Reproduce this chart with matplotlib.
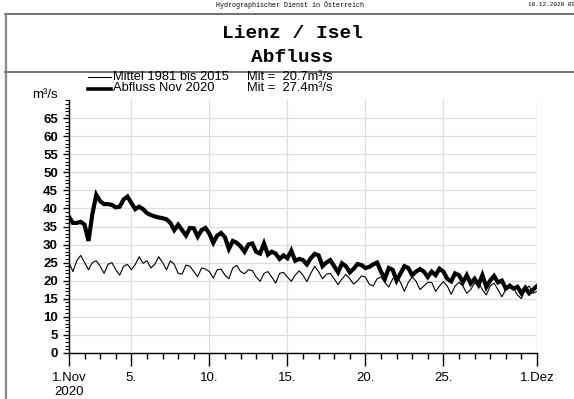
import matplotlib
matplotlib.use("Agg")
import matplotlib.pyplot as plt
import matplotlib.dates as mdates
from matplotlib.lines import Line2D
from matplotlib.ticker import MultipleLocator
import pandas as pd

# 6-hourly values, 1 Nov 2020 00:00 .. 1 Dec 2020 00:00
mittel = [
    25.0, 22.5, 25.5, 27.0,
    25.0, 23.0, 25.0, 25.5,
    24.0, 22.0, 24.5, 25.0,
    23.0, 21.5, 24.0, 24.5,
    23.0, 24.5, 26.6, 24.8,
    25.5, 23.5, 24.5, 26.6,
    25.0, 23.0, 25.5, 24.5,
    22.0, 21.8, 24.3, 24.0,
    22.5, 21.1, 23.5, 23.2,
    22.5, 20.7, 23.0, 23.2,
    21.5, 20.5, 23.5, 24.2,
    22.5, 21.9, 23.0, 22.8,
    21.0, 19.8, 22.0, 22.5,
    21.0, 19.3, 22.0, 22.3,
    21.0, 19.8, 21.5, 22.7,
    21.5, 19.7, 22.0, 24.0,
    22.5, 20.5, 21.8, 22.0,
    20.5, 18.9, 20.5, 21.7,
    20.5, 19.0, 20.0, 21.3,
    21.0, 19.0, 18.5, 20.5,
    21.0, 19.5, 18.2, 20.5,
    21.3, 19.5, 17.0, 19.5,
    21.0, 19.8, 17.5, 18.5,
    19.5, 19.5, 17.0, 18.5,
    19.7, 18.5, 16.2, 18.5,
    19.5, 18.5, 16.5, 17.5,
    19.3, 19.5, 17.5, 16.0,
    18.5, 19.3, 17.5, 15.5,
    17.5, 19.2, 18.0, 16.0,
    15.0, 17.5, 18.5, 16.5,
    17.0,
]

abfluss = [
    37.7, 36.0, 36.0, 36.3,
    35.5, 31.0, 38.5, 43.8,
    42.0, 41.2, 41.2, 41.0,
    40.3, 40.5, 42.5, 43.3,
    41.5, 39.8, 40.5, 39.8,
    38.7, 38.2, 37.8, 37.5,
    37.3, 37.0, 36.0, 34.0,
    35.5, 34.0, 32.5, 34.6,
    34.5, 32.2, 34.0, 34.6,
    33.0, 30.5, 32.5, 33.2,
    32.0, 28.8, 31.0, 30.5,
    29.5, 28.0, 30.0, 30.3,
    28.0, 27.5, 30.3, 27.2,
    28.0, 27.5, 26.0, 27.0,
    26.2, 28.3, 25.5, 26.0,
    25.7, 24.5, 26.2, 27.4,
    27.0, 24.0, 25.0, 25.7,
    24.0, 22.3, 24.8, 24.0,
    22.3, 23.3, 24.6, 24.3,
    23.5, 23.8, 24.5, 25.0,
    22.5, 20.5, 23.5, 23.0,
    20.0, 22.0, 24.0, 23.5,
    21.5, 22.5, 23.2, 22.5,
    21.0, 22.5, 21.5, 23.3,
    22.5, 20.5, 19.8, 22.0,
    21.5, 19.5, 21.5, 19.2,
    20.5, 18.8, 21.5, 18.2,
    20.0, 21.3, 19.5, 20.0,
    17.8, 18.5, 17.8, 18.3,
    16.5, 18.0, 16.5, 17.5,
    18.5,
]

times = pd.date_range("2020-11-01 00:00", "2020-12-01 00:00", freq="6h")

xtick_dates = ["2020-11-01", "2020-11-05", "2020-11-10", "2020-11-15",
               "2020-11-20", "2020-11-25", "2020-12-01"]
xtick_labels = ["1.Nov\n2020", "5.", "10.", "15.", "20.", "25.", "1.Dez"]
ytick_values = list(range(0, 70, 5))

plt.rcParams["font.family"] = ["Liberation Sans", "DejaVu Sans"]

fig = plt.figure(figsize=(5.74, 3.99), dpi=100)
ax = fig.add_axes([0.1202, 0.1160, 0.8153, 0.6326])

ax.plot(times, mittel, color="black", lw=0.8)
ax.plot(times, abfluss, color="black", lw=3.0, solid_joinstyle="miter")

ax.set_xlim(pd.Timestamp("2020-11-01"), pd.Timestamp("2020-12-01"))
ax.set_ylim(0, 70)

ax.set_xticks([pd.Timestamp(d) for d in xtick_dates])
ax.set_xticklabels(xtick_labels)
ax.xaxis.set_minor_locator(mdates.DayLocator())
ax.set_yticks(ytick_values)
ax.yaxis.set_minor_locator(MultipleLocator(1))
for lbl in ax.get_yticklabels():
    lbl.set_fontweight("bold")

ax.tick_params(axis="x", which="major", length=9, width=1, pad=5, labelsize=9.5, direction="out")
ax.tick_params(axis="x", which="minor", length=4, width=1, direction="out")
ax.tick_params(axis="y", which="major", length=4, width=1, pad=4, labelsize=9.5, direction="out")
ax.tick_params(axis="y", which="minor", length=3, width=0.8, direction="out")

ax.grid(True, which="major", color="#dddddd", lw=0.9)
ax.axvline(pd.Timestamp("2020-12-01"), color="#dddddd", lw=0.9)
ax.set_axisbelow(True)
for s in ["top", "right"]:
    ax.spines[s].set_visible(False)
for s in ["left", "bottom"]:
    ax.spines[s].set_linewidth(1.0)

W, H = 574.0, 399.0
def fx(px):
    return px / W
def fy(py):
    return 1 - py / H

# frame lines
fig.add_artist(Line2D([fx(5), 1.0], [fy(14), fy(14)], color="#555555", lw=1.2))
fig.add_artist(Line2D([fx(5), 1.0], [fy(71.5), fy(71.5)], color="#555555", lw=1.2))
fig.add_artist(Line2D([fx(6), fx(6)], [fy(14), 0.0], color="#888888", lw=1.6))

fig.text(fx(290), fy(5), "Hydrographischer Dienst in Österreich", family="Liberation Mono",
         fontsize=4.8, ha="center", va="center")
fig.text(fx(528), fy(5), "10.12.2020 09:45", family="Liberation Mono",
         fontsize=4.3, ha="left", va="center")

fig.text(fx(292), fy(34), "Lienz / Isel", family="Liberation Mono", fontweight="bold",
         fontsize=14, ha="center", va="center")
fig.text(fx(292), fy(57), "Abfluss", family="Liberation Mono", fontweight="bold",
         fontsize=14, ha="center", va="center")

# legend
fig.add_artist(Line2D([fx(88), fx(111)], [fy(77), fy(77)], color="black", lw=0.8))
fig.add_artist(Line2D([fx(88), fx(111)], [fy(88.5), fy(88.5)], color="black", lw=2.6))
fig.text(fx(113), fy(76.5), "Mittel 1981 bis 2015", fontsize=9.3, ha="left", va="center")
fig.text(fx(113), fy(88), "Abfluss Nov 2020", fontsize=9.3, ha="left", va="center")
fig.text(fx(247), fy(76.5), "Mit =  20.7m³/s", fontsize=9.3, ha="left", va="center")
fig.text(fx(247), fy(88), "Mit =  27.4m³/s", fontsize=9.3, ha="left", va="center")
fig.text(fx(32), fy(94.5), "m³/s", fontsize=9.5, ha="left", va="center")

fig.savefig("out.png", dpi=100)
